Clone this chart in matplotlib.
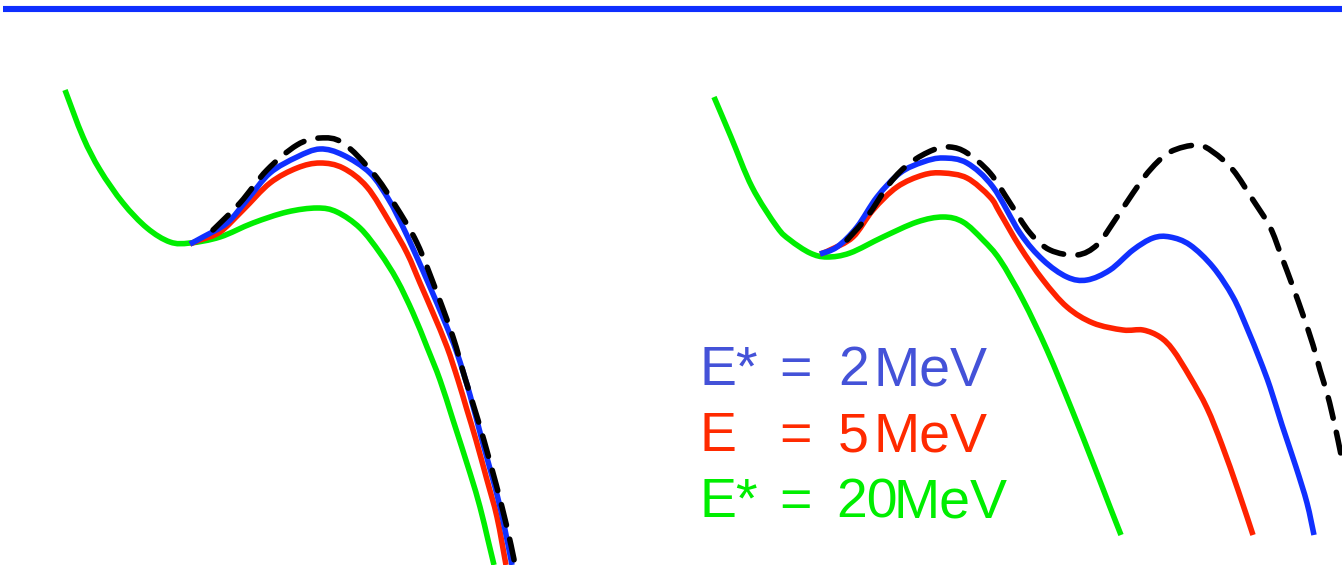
import matplotlib
matplotlib.use("Agg")
import matplotlib.pyplot as plt
from matplotlib.path import Path
from matplotlib.patches import PathPatch

# Potential-energy curves (horizontal / vertical positions in canvas units)
# Left panel
left_green_x = [65, 83, 100, 123, 147, 170, 190, 220, 253, 287, 317, 337, 360, 380, 397, 413, 427, 440, 453,
                470, 480, 488, 494]
left_green_y = [90, 137, 170, 203, 228, 242, 243, 237, 223, 212, 208, 212, 228, 253, 280, 313, 347, 380, 420,
                473, 507, 540, 565]

left_red_x = [190, 200, 220, 243, 270, 297, 320, 343, 367, 390, 407, 420, 433, 447, 458, 467, 476, 487, 497, 506]
left_red_y = [244, 240, 232, 210, 183, 168, 163, 168, 187, 223, 253, 283, 313, 347, 380, 410, 440, 480, 517, 565]

left_blue_x = [190, 203, 227, 247, 270, 297, 320, 343, 370, 389, 402, 415, 430, 444, 457, 470, 482, 495, 503, 512]
left_blue_y = [244, 237, 223, 200, 173, 157, 149, 155, 173, 200, 225, 253, 287, 320, 353, 395, 440, 487, 520, 565]

left_black_x = [213, 240, 267, 297, 320, 343, 373, 395, 417, 437, 453, 465, 478, 490, 502, 511, 515]
left_black_y = [230, 203, 170, 145, 138, 143, 173, 205, 243, 293, 337, 378, 420, 462, 507, 545, 565]

# Right panel
right_green_x = [714, 731, 752, 777, 790, 810, 827, 850, 883, 917, 943, 963, 983, 1000, 1023, 1047, 1072, 1093,
                 1110, 1121]
right_green_y = [97, 137, 187, 227, 240, 253, 257, 253, 237, 222, 217, 222, 240, 260, 300, 350, 410, 463,
                 507, 535]

right_red_x = [820, 830, 853, 873, 897, 923, 943, 967, 990, 1000, 1020, 1043, 1067, 1093, 1123, 1143, 1160, 1173,
               1190, 1207, 1222, 1238, 1253]
right_red_y = [254, 250, 237, 210, 187, 175, 173, 178, 197, 213, 247, 280, 307, 323, 330, 330, 337, 350,
               377, 408, 445, 490, 535]

right_blue_x = [820, 837, 857, 877, 900, 923, 943, 967, 993, 1020, 1043, 1067, 1087, 1110, 1133, 1153, 1170, 1190,
                1213, 1233, 1247, 1260, 1270, 1282, 1296, 1307, 1314]
right_blue_y = [254, 247, 227, 197, 173, 162, 158, 163, 187, 233, 260, 277, 280, 270, 250, 238, 237, 245,
                267, 297, 328, 360, 387, 425, 467, 503, 535]

right_black_x = [847, 867, 890, 910, 933, 950, 967, 990, 1010, 1030, 1050, 1077, 1097, 1113, 1133, 1150, 1170,
                 1197, 1213, 1233, 1253, 1270, 1281, 1293, 1303, 1313, 1320, 1327, 1332, 1338, 1342]
right_black_y = [240, 217, 183, 163, 150, 147, 153, 173, 203, 233, 250, 255, 245, 223, 193, 170, 152,
                 145, 152, 170, 200, 227, 255, 287, 315, 345, 370, 393, 413, 440, 460]

# Legend entries
label_names = ["E*", "E", "E*"]
label_values = ["2", "5", "20"]
label_unit = "MeV"

GREEN = "#00EE00"
RED = "#FF2200"
BLUE = "#1030FF"
BLACK = "#000000"
text_colors = ["#4452D8", "#FF2A00", "#00EE00"]


def smooth_path(xs, ys):
    """Cubic Bezier path passing through every point (Catmull-Rom tangents)."""
    pts = list(zip(xs, ys))
    n = len(pts)
    verts = [pts[0]]
    codes = [Path.MOVETO]
    for i in range(n - 1):
        p0 = pts[i - 1] if i > 0 else pts[i]
        p1 = pts[i]
        p2 = pts[i + 1]
        p3 = pts[i + 2] if i + 2 < n else pts[i + 1]
        c1 = (p1[0] + (p2[0] - p0[0]) / 6.0, p1[1] + (p2[1] - p0[1]) / 6.0)
        c2 = (p2[0] - (p3[0] - p1[0]) / 6.0, p2[1] - (p3[1] - p1[1]) / 6.0)
        verts += [c1, c2, p2]
        codes += [Path.CURVE4] * 3
    return Path(verts, codes)


fig = plt.figure(figsize=(13.42, 5.65), dpi=100)
ax = fig.add_axes([0, 0, 1, 1])
ax.set_xlim(0, 1342)
ax.set_ylim(565, 0)
ax.axis("off")

# Title rule
ax.plot([3, 1342], [9, 9], color="#0F2FFF", lw=4.4, solid_capstyle="butt")

lw = 4.0


def draw(xs, ys, color, dashed=False):
    patch = PathPatch(smooth_path(xs, ys), facecolor="none", edgecolor=color, lw=lw,
                      joinstyle="round", capstyle="butt" if not dashed else "round")
    if dashed:
        patch.set_linestyle((0, (3.8, 2.6)))
    ax.add_patch(patch)


for gx, gy, rx, ry, bx, by, kx, ky in [
    (left_green_x, left_green_y, left_red_x, left_red_y, left_blue_x, left_blue_y, left_black_x, left_black_y),
    (right_green_x, right_green_y, right_red_x, right_red_y, right_blue_x, right_blue_y, right_black_x, right_black_y),
]:
    draw(gx, gy, GREEN)
    draw(rx, ry, RED)
    draw(bx, by, BLUE)
    draw(kx, ky, BLACK, dashed=True)

font = dict(family="Liberation Sans", fontsize=40, va="baseline", ha="left")
baselines = [385, 451, 517]
value_x = [838, 838, 836]
unit_x = [873, 873, 893]
for name, val, col, yb, vx, ux in zip(label_names, label_values, text_colors, baselines, value_x, unit_x):
    ax.text(700, yb, name, color=col, **font)
    ax.text(779, yb, "=", color=col, **font)
    ax.text(vx, yb, val, color=col, **font)
    ax.text(ux, yb, label_unit, color=col, **font)

fig.savefig("out.png", dpi=100)
